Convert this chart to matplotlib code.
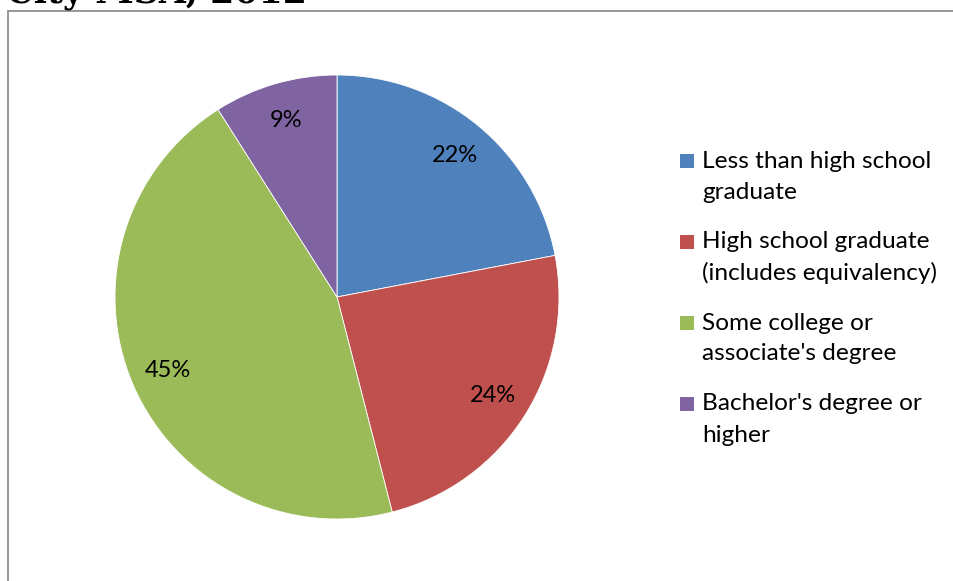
import matplotlib
matplotlib.use("Agg")
import matplotlib.pyplot as plt
from matplotlib.patches import Rectangle

categories = [
    "Less than high school\ngraduate",
    "High school graduate\n(includes equivalency)",
    "Some college or\nassociate's degree",
    "Bachelor's degree or\nhigher",
]
shares = [22, 24, 45, 9]
colors = ["#4F81BD", "#C0504D", "#9BBB59", "#8064A2"]
title_text = "City MSA, 2012"

W, H = 954, 581
fig = plt.figure(figsize=(W / 100, H / 100), dpi=100)

# chart frame, runs off the right and bottom edges
fig.patches.append(
    Rectangle((8 / W, -0.05), 1.0, 1 - 11 / H + 0.05,
              transform=fig.transFigure, fill=False,
              edgecolor="#868686", linewidth=1.2)
)

# title, mostly cut off at the top
fig.text(6 / W, 1 - 3 / H, title_text, family="DejaVu Serif",
         weight="bold", fontsize=25, va="baseline", ha="left")

cx, cy, r = 337, 297, 222
ax = fig.add_axes([(cx - r) / W, 1 - (cy + r) / H, 2 * r / W, 2 * r / H])

wedges, texts, autotexts = ax.pie(
    shares,
    colors=colors,
    startangle=90,
    counterclock=False,
    autopct="%d%%",
    pctdistance=0.83,
    wedgeprops=dict(linewidth=0.6, edgecolor="white"),
    textprops=dict(family="Lato", fontsize=17, color="black"),
)
ax.set_xlim(-1, 1)
ax.set_ylim(-1, 1)
ax.axis("off")

# legend: square beside the first line of each label
for i, (label, color) in enumerate(zip(categories, colors)):
    y_first = 161 + i * 81
    fig.patches.append(
        Rectangle((680 / W, 1 - (y_first + 7) / H), 14 / W, 14 / H,
                  transform=fig.transFigure, facecolor=color,
                  edgecolor="none")
    )
    for j, line in enumerate(label.split("\n")):
        fig.text(702 / W, 1 - (y_first + j * 31) / H, line,
                 family="Lato", fontsize=17.6, va="center", ha="left")

fig.savefig("out.png", dpi=100)
